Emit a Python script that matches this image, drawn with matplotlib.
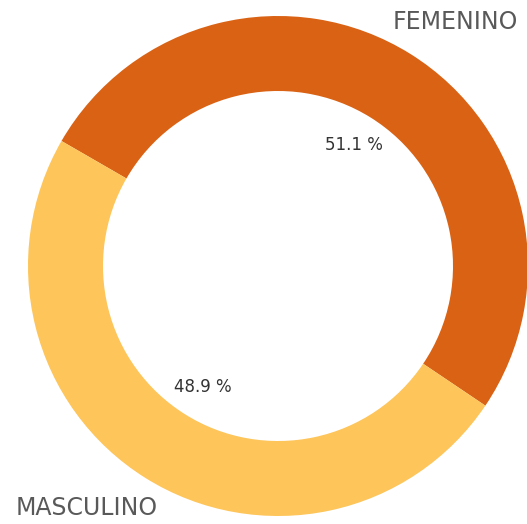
import matplotlib.pyplot as plt

# Gender split (%)
categories = ["FEMENINO", "MASCULINO"]
values = [51.1, 48.9]
colors = ["#d96214", "#fdc55a"]

fig = plt.figure(figsize=(5.27, 5.24), dpi=100)
# axes placed so the ring has radius 250 px centred at (278, 266)
ax = fig.add_axes([(278 - 250) / 527, (524 - 266 - 250) / 524, 500 / 527, 500 / 524])

wedges, texts, autotexts = ax.pie(
    values, colors=colors, startangle=150, counterclock=False,
    radius=1.0, wedgeprops=dict(width=0.30, linewidth=0),
    autopct=lambda p: f"{p:.1f} %", pctdistance=0.57,
    textprops=dict(fontsize=12, color="#333333"),
)
ax.set_xlim(-1, 1)
ax.set_ylim(-1, 1)
ax.set_aspect("auto")
ax.axis("off")

# category labels outside the ring
ax.text(0.71, 0.975, categories[0], ha="center", va="center",
        fontsize=17, color="#595959", clip_on=False)
ax.text(-0.765, -0.968, categories[1], ha="center", va="center",
        fontsize=17, color="#595959", clip_on=False)

fig.savefig("out.png", dpi=100)
